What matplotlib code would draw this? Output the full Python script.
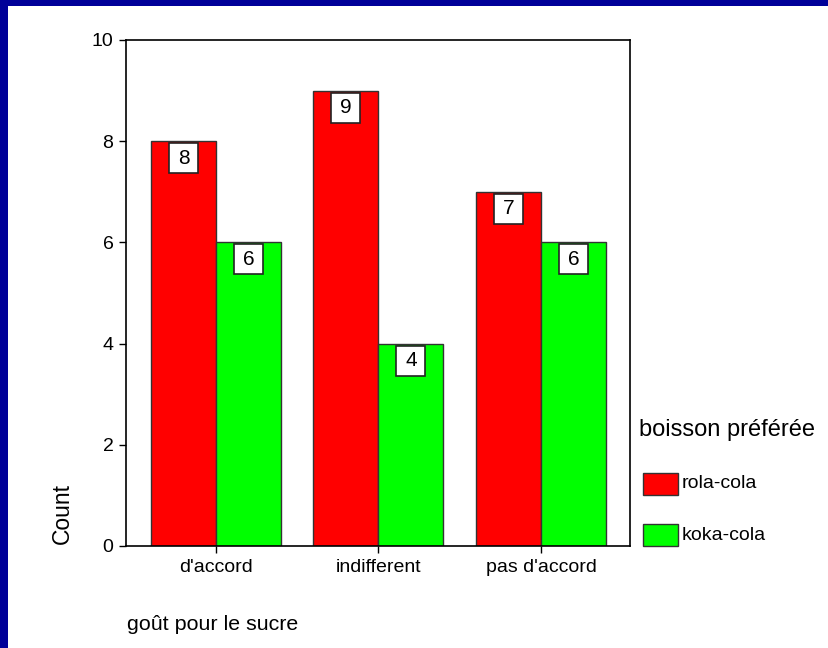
import numpy as np
import matplotlib
matplotlib.use('Agg')
import matplotlib.pyplot as plt
import matplotlib.transforms as mtransforms
from matplotlib.patches import Rectangle

plt.rcParams['font.family'] = ['Liberation Sans', 'DejaVu Sans']

categories = ["d'accord", "indifferent", "pas d'accord"]
rola = [8, 9, 7]
koka = [6, 4, 6]
series_names = ['rola-cola', 'koka-cola']
colors = ['#ff0000', '#00ff00']

W, H = 829, 648
fig = plt.figure(figsize=(W / 100, H / 100), dpi=100)
fig.patch.set_facecolor('white')

# bandeau bleu en haut et a gauche
fig.add_artist(Rectangle((0, 1 - 6 / H), 1, 6 / H, transform=fig.transFigure,
                         facecolor='#000099', edgecolor='none'))
fig.add_artist(Rectangle((0, 0), 8 / W, 1, transform=fig.transFigure,
                         facecolor='#000099', edgecolor='none'))

ax = fig.add_axes([126 / W, 1 - 546 / H, (630 - 126) / W, (546 - 40) / H])
x = np.arange(len(categories))
w = 0.4
b1 = ax.bar(x - w / 2, rola, w, color=colors[0], edgecolor='#333333', linewidth=1)
b2 = ax.bar(x + w / 2, koka, w, color=colors[1], edgecolor='#333333', linewidth=1)

ax.set_xlim(-0.554, 2.548)
ax.set_ylim(0, 10)
ax.set_yticks([0, 2, 4, 6, 8, 10])
ax.set_xticks(x)
ax.set_xticklabels(categories)
ax.tick_params(axis='both', direction='out', length=5, width=1, labelsize=14, pad=4)
for s in ax.spines.values():
    s.set_linewidth(1.2)
    s.set_color('black')

# etiquettes de valeur dans un cadre blanc
for bars, vals in ((b1, rola), (b2, koka)):
    for bar, v in zip(bars, vals):
        xc = bar.get_x() + bar.get_width() / 2
        trans = fig.dpi_scale_trans + mtransforms.ScaledTranslation(xc, v, ax.transData)
        ax.add_patch(Rectangle((-0.145, -0.32), 0.29, 0.30, transform=trans,
                               facecolor='white', edgecolor='#222222', linewidth=1.2,
                               zorder=3))
        ax.text(0, -0.17, str(v), transform=trans, ha='center', va='center',
                fontsize=15, zorder=4)

fig.text(62 / W, 1 - 513 / H, 'Count', rotation=90, ha='center', va='center', fontsize=16.5)
fig.text(127 / W, 1 - 625 / H, 'goût pour le sucre', ha='left', va='center', fontsize=15.4)

# legende
fig.text(639 / W, 1 - 430 / H, 'boisson préférée', ha='left', va='center', fontsize=17)
for i, (name, c) in enumerate(zip(series_names, colors)):
    y0 = 473 + i * 51
    fig.add_artist(Rectangle((643 / W, 1 - (y0 + 22) / H), 35 / W, 22 / H,
                             transform=fig.transFigure, facecolor=c,
                             edgecolor='#333333', linewidth=1))
    fig.text(682 / W, 1 - (y0 + 11) / H, name, ha='left', va='center', fontsize=14)

fig.savefig('out.png', dpi=100)
